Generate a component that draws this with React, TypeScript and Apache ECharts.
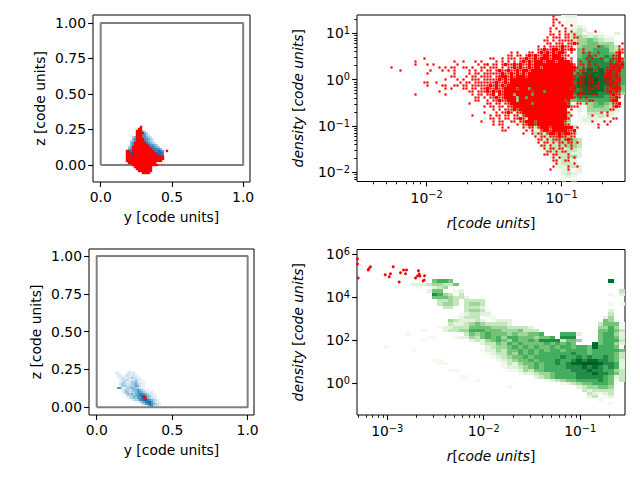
import React, { useEffect, useRef } from "react";
import * as echarts from "echarts";

const FONT = "DejaVu Sans";
const FS = 13.9;

const greens = ["", "#f2faef", "#e0f3db", "#c4e7bd", "#9fd79a", "#72c375", "#45ad5f", "#238b45", "#006d2c", "#005a24"];
const blues = ["", "#e8f1f9", "#cfe1f1", "#a9cfe5", "#7ab6da", "#4f9bcb", "#3384bf", "#1f72b2", "#1261a6", "#0c5296"];

// Bin layout of the histograms (log10 units for right-hand panels)
const trHeatOrigin = { x: -2.516, y: 1.394, dx: 0.0397, dy: 0.0718 };
const brHeatOrigin = { x: -3.313, y: 6.21, dx: 0.05544, dy: 0.1536 };
const trRedOrigin = { x: -2.516, y: 1.394, dx: 0.02222, dy: 0.06466 };
const tlOrigin = { x: 0.1775, y: 0.2746, dx: 0.01404, dy: 0.01408 };
const blOrigin = { x: 0.1212, y: 0.2404, dx: 0.01325, dy: 0.01325 };

// [row, first column, levels] : histogram levels
const trHeat: [number, number, string][] = [
  [0, 38, "122"], [1, 39, "11"], [2, 39, "11"], [3, 40, "121"], [4, 39, "1232"],
  [5, 39, "2331211"], [5, 48, "2"], [6, 39, "234323211"], [7, 40, "34454322"], [8, 41, "4455444"],
  [9, 41, "45556543"], [10, 41, "55566643"], [11, 41, "56666654"], [12, 41, "56766765"], [13, 41, "667776765"],
  [14, 41, "667777766"], [15, 41, "667777776"], [16, 40, "6678787776"], [17, 40, "6788887766"], [18, 40, "7789888776"],
  [19, 40, "7899988776"], [20, 40, "7899988876"], [21, 40, "7889887765"], [22, 40, "7788887655"], [23, 40, "7888877654"],
  [24, 40, "677777654"], [25, 40, "56666665"], [26, 41, "23456543"], [27, 41, "21455432"], [28, 41, "21444432"],
  [29, 41, "1.333221"], [30, 41, "1122321"], [31, 41, "12221"], [32, 41, "111"],
  [18, 30, "4455666666"], [19, 29, "34556666666"], [20, 28, "334556666666"], [21, 27, "3345566666666"], [22, 27, "3345566666666"],
  [23, 27, "4456666666666"], [24, 27, "3445666666665"], [25, 27, "3445566666665"], [26, 28, "344566666665"], [27, 28, "34456666665"],
  [28, 29, "3445566665"], [29, 29, "23445666654"], [30, 30, "2445555554"], [31, 30, "2344555544"], [32, 30, "2345544443"],
  [33, 31, "3334454443"], [34, 32, "22334443"], [35, 33, "32334443"], [36, 33, "1233344"], [37, 33, "123344443"],
  [38, 34, "12334443"], [39, 34, "22333443"], [40, 34, "12332332"], [41, 35, "2233322"], [42, 36, "223342"],
  [43, 36, "12322"], [44, 37, "23321"], [45, 37, "22232"], [46, 37, "12212"], [47, 38, "2321"], [48, 38, "121"], [49, 38, "1.1"],
];

const brHeat: [number, number, string][] = [
  [9, 14, "5665"], [9, 47, "8"],
  [10, 10, "2223"], [10, 14, "44335"], [10, 47, "1"],
  [11, 11, "1..2"], [11, 15, "34"], [12, 13, "255"], [12, 18, "1"], [12, 19, "2"],
  [12, 49, "3"], [13, 14, "7643"], [13, 19, "3"], [13, 49, "2"], [13, 47, "1"],
  [14, 14, "55543"], [14, 19, "32"], [15, 15, "3343"], [15, 20, "3333"], [16, 15, "3443"], [16, 20, "3443"],
  [16, 47, "1"], [16, 49, "1"], [17, 16, "33"], [17, 20, "3332"], [18, 20, "3443"], [18, 24, "1"], [18, 47, "2"],
  [19, 19, "12332"], [19, 24, "2"], [19, 47, "3"], [20, 18, ".2333"], [20, 24, "11"], [20, 46, "24"],
  [21, 17, "43"], [21, 19, "22232"], [21, 25, "1222"], [21, 46, "54"], [21, 48, "1"],
  [22, 17, "322"], [22, 20, "34543"], [22, 25, "3332"], [22, 45, "3555"], [22, 49, "1"],
  [23, 15, "12233"], [23, 20, "355554443"], [23, 29, "3332"], [23, 45, "44643"], [23, 49, "1"],
  [24, 16, "2334"], [24, 20, "466655544453"], [24, 32, "33"], [24, 45, "55653"],
  [25, 20, "3545655545445"], [25, 33, "56"], [25, 38, "6662"], [25, 45, "56642"],
  [26, 18, "12243565646655"], [26, 32, "54556"], [26, 38, "777"], [26, 45, "56652"],
  [27, 21, "2324565465565"], [27, 34, "77773554"], [27, 45, "56663"],
  [28, 23, "233546565555656565"], [28, 44, "856642"],
  [29, 24, "2344565656556566566"], [29, 43, "586665"],
  [30, 23, "122435565656566566665"], [30, 44, "666665"],
  [31, 24, "1233546565666666766566"], [31, 46, "6653"],
  [32, 25, "123455656666676676766"], [32, 46, "7653"],
  [33, 26, "12345565666766787887"], [33, 46, "7652"],
  [34, 27, "1324556566767889998"], [34, 45, "87762"],
  [35, 27, "1223456566667778787"], [35, 46, "6762"],
  [36, 28, "112435566666777877"], [36, 46, "6643"],
  [37, 30, "1223445666677787"], [37, 46, "7653"],
  [38, 33, "2345666677777"], [38, 46, "6523"],
  [39, 35, "12345566667"], [39, 46, "6513"],
  [40, 38, "12345566"], [40, 46, "651"],
  [41, 41, "23445"], [41, 46, "54"], [42, 42, "3233"], [42, 46, "33"], [43, 43, "32"], [43, 45, "123"], [44, 43, "23"], [44, 46, "12"],
  [45, 45, "1"], [46, 47, "1"],
  [25, 9, "1"], [27, 12, "1"], [30, 10, "1"], [33, 14, "11"], [34, 15, "11"], [36, 17, "11"], [38, 19, "11"],
  [39, 22, "1"], [41, 28, "1"], [29, 5, "1"], [24, 12, "1"], [26, 13, "11"],
];

// Red cloud of the top right panel: [row, first column, marks] ('#' heavy, 'o' single point)
const trRed: [number, number, string][] = [
  [0, 65, "o"], [1, 65, "oo"], [2, 65, "o.o"], [3, 65, "o..o..o"], [4, 64, "o.o..o"], [5, 64, "o..o.o.o"], [5, 79, "o"],
  [6, 64, "oo.o.oo.o"], [7, 63, "o.ooo.oo.oo"], [8, 62, "oo.o.ooooo"], [9, 63, "oo.ooo.oo#o"], [9, 88, "o"],
  [10, 60, "o.o.oooo#ooo"], [10, 80, "o"], [10, 87, "o.o"], [11, 60, "oo#oo##o#oo#o"], [11, 75, "o"], [11, 87, "oo"],
  [12, 51, "o.o"], [12, 57, "oo.o#o#o#o##o.o"], [12, 75, "o.o..o"], [12, 86, "o#o"],
  [13, 50, "oo.oo"], [13, 56, "o#o#oo##o###ooo"], [13, 77, "o.o"], [13, 85, "oo#.o"],
  [14, 22, "o"], [14, 44, "oo"], [14, 48, "o.ooo"], [14, 54, "oo#oo#o###o####o.o"], [14, 76, "o.o..o"], [14, 85, "oo#o"],
  [15, 19, "o"], [15, 32, "o..o"], [15, 39, "o.o"], [15, 46, "o.o.o.o"], [15, 54, "o#o#o###o###o####o"], [15, 74, "o..o"], [15, 84, "o.o#o"],
  [16, 19, "o"], [16, 23, "o.o"], [16, 33, "o"], [16, 40, "o.oo"], [16, 43, "o.oo.o#oo#o#oo"], [16, 57, "#o#############o"], [16, 74, "oo.o.o"], [16, 84, "oo#o#"],
  [17, 11, "o"], [17, 27, "o.o.oo"], [17, 35, "oo.o..o"], [17, 42, "o.ooo.o.oo#o#oo#o"], [17, 59, "##o###########o"], [17, 75, "o.o..o"], [17, 83, "oo#o#o"],
  [18, 14, "o"], [18, 24, "o...o"], [18, 30, "o.o"], [18, 37, "o.o.o.oo"], [18, 46, "o#oo#oo#o#"], [18, 56, "#o##############o."], [18, 74, "oo...o"], [18, 83, "o#oo#"],
  [19, 23, "o"], [19, 32, "o"], [19, 37, "o.oo.ooooo"], [19, 47, "o#oo#o#o"], [19, 55, "#o###############.o"], [19, 75, "o.o"], [19, 82, "o##o#o"],
  [20, 31, "oo"], [20, 36, "o.oo.oooo.oo"], [20, 47, "o##o#o"], [20, 53, "###o###############o."], [20, 74, "#o.o..o"], [20, 82, "o##o#o"],
  [21, 29, "o"], [21, 33, "o.o..ooo.oooo"], [21, 46, "o#o#o#"], [21, 52, "####################o."], [21, 74, "oo.oo"], [21, 82, "oo#oo#"],
  [22, 22, "oo"], [22, 26, "o"], [22, 34, "o.oo.oooooooo"], [22, 46, "#oo#o"], [22, 51, "#####################.oo"], [22, 74, "oo.oo.o"], [22, 83, "oo#oo"],
  [23, 23, "o"], [23, 28, "oo"], [23, 32, "oo.oo.oooooo#"], [23, 45, "o#o#o"], [23, 50, "######################o."], [23, 74, "oo.o.oo"], [23, 83, "o#o#o"],
  [24, 29, "o"], [24, 31, "o"], [24, 35, "oo.oo.oo#o"], [24, 45, "o#oo#"], [24, 50, "###o###.#############o#."], [24, 74, "o"], [24, 77, "oo.o"], [24, 83, "oo###"],
  [25, 27, "o"], [25, 37, "oo.ooo#o"], [25, 45, "#o#o"], [25, 49, "#########o###.#########o."], [25, 74, "oo.o"], [25, 83, "o#o#o"],
  [26, 19, "o"], [26, 29, "o"], [26, 38, "o.oo.o"], [26, 44, "o#.#o"], [26, 49, "###.#####.#############.o"], [26, 74, "oo..oo"], [26, 84, "o#oo"],
  [27, 39, "oo.o"], [27, 44, "oo#oo"], [27, 49, "####.##.###############o."], [27, 74, "o.o"], [27, 84, "oo#o"],
  [28, 39, "oo"], [28, 43, "o"], [28, 45, "oo#o"], [28, 49, "o###.###############o#."], [28, 77, "oo"], [28, 84, "o##"],
  [29, 37, "o"], [29, 43, "oo.oo"], [29, 49, "oo#######.###########o"], [29, 73, "oo.o"], [29, 85, "oo#"],
  [30, 42, "o.oo.oo"], [30, 50, "oo###################o"], [30, 72, "oo"], [30, 85, "o#o"],
  [31, 45, "o.o"], [31, 49, "ooo#o"], [31, 54, "################.o"], [31, 84, "oo"],
  [32, 42, "o"], [32, 46, "o.oo#o.o"], [32, 54, "o###############o"], [32, 81, "o.o"],
  [33, 38, "o"], [33, 44, "o.oo.oo"], [33, 52, "oo.o##############.o"], [33, 78, "o"], [33, 83, "o"],
  [34, 44, "oo.o.oo"], [34, 52, "oo#o.#############o"], [34, 85, "oo"],
  [35, 41, "o"], [35, 45, "o.oo"], [35, 51, "oo.oo###o#########o"], [35, 78, "o"], [35, 82, "o"], [35, 84, "o"],
  [36, 45, "o.oo"], [36, 53, "o.oo##o#########oo"], [36, 80, "o"], [36, 83, "o"],
  [37, 48, "o.o"], [37, 55, "o.oo.o###o#######.o"], [37, 80, "o"],
  [38, 48, "oo"], [38, 56, "o.o"], [38, 61, "o##o#####oo#"],
  [39, 55, "o"], [39, 58, "o.oo.o##o#o##oo"], [40, 59, "o.oo.ooo#oo.oo"], [41, 60, "oo.o.ooo.o#o"],
  [42, 60, "o.oo.o.oo.oo.o"], [43, 61, "oo.o..o.o.o"], [44, 62, "o.oo.oo..o"], [45, 63, "oo.o.oo"],
  [46, 62, "oo.oo...o"], [47, 65, "o.o..o.o"], [48, 65, "oo..o"], [48, 70, "o"], [49, 66, "o"], [49, 72, "o"],
  [50, 65, "o"], [50, 70, "o"], [50, 73, "o"], [51, 64, "o"], [51, 70, "o"],
];

const tlBlue: [number, number, string][] = [
  [2, 8, "32"], [3, 9, "43"], [4, 8, "5532"], [5, 3, "34"], [5, 8, "55432"], [6, 3, "45"], [6, 9, "55432"],
  [7, 2, "345"], [7, 9, "65432"], [8, 2, "456"], [8, 10, "65432"], [9, 2, "45"], [9, 11, "65543"],
  [10, 1, "345"], [10, 12, "66543"], [11, 1, "45"], [11, 13, "66654"], [12, 2, "6"], [12, 14, "66765"],
  [13, 2, "89"], [13, 15, "7776"], [14, 3, "9"], [14, 16, "776"],
];
const tlRed: [number, number, string][] = [
  [0, 7, "#"], [1, 6, "##"], [2, 5, "###"], [3, 5, "####"], [4, 5, "###"], [5, 5, "###"], [6, 5, "####"], [7, 5, "####"],
  [8, 4, "######"], [9, 4, "#######"], [10, 3, "#########"], [11, 3, "##########"],
  [12, 0, "##"], [12, 3, "###########"], [12, 20, "#"], [13, 0, "##"], [13, 4, "###########"],
  [14, 0, "###"], [14, 4, "############"], [15, 0, "###################"], [16, 0, "###################"],
  [17, 0, "##################"], [18, 1, "##############"], [19, 3, "#############"], [20, 4, "#########"],
  [21, 5, "########"], [22, 6, "#######"], [23, 8, "####"],
];

const blBlue: [number, number, string][] = [
  [0, 0, "11"], [0, 6, "1211"], [1, 0, "121"], [1, 5, "122121"], [2, 1, "121"], [2, 4, "12212211"],
  [3, 1, "112212232211"], [4, 2, "122321223211"], [5, 2, "1232123342111"], [6, 2, "2332223443211"],
  [7, 2, "1333233354211"], [8, 1, "55212334433211"], [9, 3, "12332344543211"], [10, 3, "1243233455432112"],
  [11, 4, "12434345665432111"], [12, 5, "1233445677543211"], [13, 6, "123435577643221"],
  [14, 8, "12336678654321"], [15, 10, "1124567753211"], [16, 13, "2356754321"], [17, 16, "3562211"],
];
const blRed: number[][] = [[0.3166, 0.065]];

// log10(r), log10(density) of the red points in the lower right panel
const brRedLog: number[][] = [
  [-3.308, 5.768], [-3.308, 5.536], [-3.301, 4.886], [-3.197, 5.258], [-3.173, 5.411], [-3.189, 5.327],
  [-3.021, 5.039], [-2.966, 5.086], [-2.979, 4.947], [-2.938, 5.411], [-2.862, 5.132], [-2.831, 5.258],
  [-2.8, 5.258], [-2.81, 5.086], [-2.876, 4.701], [-2.676, 5.225], [-2.668, 5.072], [-2.686, 4.979],
  [-2.662, 4.979], [-2.707, 4.886], [-2.613, 4.993], [-2.617, 4.793], [-2.627, 4.747],
];

const boxPoints: number[][] = [[0, 0], [1, 0], [1, 1], [0, 1], [0, 0]];
const tlYTicks = [0, 0.25, 0.5, 0.75, 1];
const xTicks = [0, 0.5, 1];
const trXMajor = [0.01, 0.1];
const trYMajor = [0.01, 0.1, 1, 10];
const brXMajor = [0.001, 0.01, 0.1];
const brYMajor = [1, 100, 10000, 1000000];

const subs = (decades: number[]) => decades.flatMap((d) => [2, 3, 4, 5, 6, 7, 8, 9].map((m) => m * d));
const trXMinor = subs([0.001, 0.01, 0.1]);
const trYMinor = subs([0.001, 0.01, 0.1, 1, 10]);
const brXMinor = subs([0.0001, 0.001, 0.01, 0.1]);

type Cell = number[];
const heatCells = (rows: [number, number, string][], o: any, log: boolean): Cell[] => {
  const out: Cell[] = [];
  const tx = (v: number) => (log ? Math.pow(10, v) : v);
  for (const [r, c0, s] of rows) {
    for (let i = 0; i < s.length; i++) {
      const lv = Number(s[i]);
      if (!lv) continue;
      const c = c0 + i;
      out.push([tx(o.x + c * o.dx), tx(o.x + (c + 1) * o.dx), tx(o.y - r * o.dy), tx(o.y - (r + 1) * o.dy), lv]);
    }
  }
  return out;
};
const markPoints = (rows: [number, number, string][], o: any, log: boolean, ch: string): number[][] => {
  const out: number[][] = [];
  const tx = (v: number) => (log ? Math.pow(10, v) : v);
  for (const [r, c0, s] of rows) {
    for (let i = 0; i < s.length; i++) {
      if (s[i] !== ch) continue;
      out.push([tx(o.x + (c0 + i + 0.5) * o.dx), tx(o.y - (r + 0.5) * o.dy)]);
    }
  }
  return out;
};

const heatSeries = (data: Cell[], palette: string[], axis: number) => ({
  type: "custom",
  xAxisIndex: axis,
  yAxisIndex: axis,
  clip: true,
  silent: true,
  z: 2,
  encode: { x: [0, 1], y: [2, 3] },
  data,
  renderItem: (_p: any, api: any) => {
    const a = api.coord([api.value(0), api.value(2)]);
    const b = api.coord([api.value(1), api.value(3)]);
    const x0 = Math.round(a[0]);
    const x1 = Math.round(b[0]);
    const y0 = Math.round(a[1]);
    const y1 = Math.round(b[1]);
    return {
      type: "rect",
      shape: { x: x0, y: y0, width: Math.max(x1 - x0, 1), height: Math.max(y1 - y0, 1) },
      style: { fill: palette[api.value(4)] },
    };
  },
});

const dots = (data: number[][], axisX: number, axisY: number, symbol: string, size: number) => ({
  type: "scatter",
  xAxisIndex: axisX,
  yAxisIndex: axisY,
  symbol,
  symbolSize: size,
  itemStyle: { color: "#ff0000", opacity: 1 },
  silent: true,
  clip: true,
  z: 4,
  data,
});

const box = (axis: number) => ({
  type: "line",
  xAxisIndex: axis,
  yAxisIndex: axis,
  data: boxPoints,
  symbol: "none",
  silent: true,
  z: 3,
  lineStyle: { color: "#808080", width: 2 },
});

const richBase = {
  i: { fontFamily: FONT, fontSize: FS, fontStyle: "italic", color: "#000" },
  n: { fontFamily: FONT, fontSize: FS, color: "#000" },
};

const axis = (opts: any) => {
  const { grid, dim, min, max, log, ticks, fmt, name, nameGap, minor } = opts;
  const base: any = {
    gridIndex: grid,
    type: log ? "log" : "value",
    logBase: 10,
    min,
    max,
    position: dim === "x" ? "bottom" : "left",
    scale: true,
    splitLine: { show: false },
    minorTick: { show: false },
    minorSplitLine: { show: false },
    axisLine: { show: false, onZero: false },
    axisPointer: { show: false },
  };
  if (minor) {
    return {
      ...base,
      axisTick: { show: true, customValues: ticks, length: 2.8, lineStyle: { color: "#000", width: 0.9 } },
      axisLabel: { show: false },
    };
  }
  return {
    ...base,
    name,
    nameLocation: "middle",
    nameGap,
    nameTextStyle: { fontFamily: FONT, fontSize: FS, color: "#000", rich: richBase },
    axisTick: { show: true, customValues: ticks, length: 4.9, lineStyle: { color: "#000", width: 1.1 } },
    axisLabel: {
      show: true,
      customValues: ticks,
      margin: dim === "x" ? 8 : 7,
      color: "#000",
      fontFamily: FONT,
      fontSize: FS,
      formatter: fmt,
      rich: {
        b: { fontFamily: FONT, fontSize: FS, color: "#000" },
        s: { fontFamily: FONT, fontSize: 9.8, color: "#000", padding: [0, 0, 6, 0] },
      },
    },
  };
};

const fmtLog = (v: number) => {
  const e = Math.round(Math.log10(v));
  return "{b|10}{s|" + (e < 0 ? "\u2212" + -e : e) + "}";
};
const fmt2 = (v: number) => v.toFixed(2);
const fmt1 = (v: number) => v.toFixed(1);

const buildOption = () => {
  const P = Math.pow;
  const rName = "{i|r}{n|[}{i|code units}{n|]}";
  const dName = "{i|density }{n|[}{i|code units}{n|]}";
  return {
    animation: false,
    backgroundColor: "#fff",
    grid: [
      { left: 93, top: 15, width: 157, height: 167, show: true, borderColor: "#000", borderWidth: 1 },
      { left: 357, top: 15, width: 268, height: 166.5, show: true, borderColor: "#000", borderWidth: 1 },
      { left: 89, top: 249, width: 165, height: 166, show: true, borderColor: "#000", borderWidth: 1 },
      { left: 357, top: 249.5, width: 268, height: 165.5, show: true, borderColor: "#000", borderWidth: 1 },
    ],
    xAxis: [
      axis({ grid: 0, dim: "x", min: -0.054, max: 1.048, ticks: xTicks, fmt: fmt1, name: "y [code units]", nameGap: 28 }),
      axis({ grid: 1, dim: "x", log: true, min: P(10, -2.516), max: P(10, -0.531), ticks: trXMajor, fmt: fmtLog, name: rName, nameGap: 34 }),
      axis({ grid: 2, dim: "x", min: -0.051, max: 1.042, ticks: xTicks, fmt: fmt1, name: "y [code units]", nameGap: 28 }),
      axis({ grid: 3, dim: "x", log: true, min: P(10, -3.313), max: P(10, -0.536), ticks: brXMajor, fmt: fmtLog, name: rName, nameGap: 34 }),
      axis({ grid: 1, dim: "x", log: true, min: P(10, -2.516), max: P(10, -0.531), ticks: trXMinor, minor: true }),
      axis({ grid: 3, dim: "x", log: true, min: P(10, -3.313), max: P(10, -0.536), ticks: brXMinor, minor: true }),
    ],
    yAxis: [
      axis({ grid: 0, dim: "y", min: -0.12, max: 1.056, ticks: tlYTicks, fmt: fmt2, name: "z [code units]", nameGap: 46 }),
      axis({ grid: 1, dim: "y", log: true, min: P(10, -2.194), max: P(10, 1.394), ticks: trYMajor, fmt: fmtLog, name: dName, nameGap: 52 }),
      axis({ grid: 2, dim: "y", min: -0.051, max: 1.046, ticks: tlYTicks, fmt: fmt2, name: "z [code units]", nameGap: 46 }),
      axis({ grid: 3, dim: "y", log: true, min: P(10, -1.47), max: P(10, 6.21), ticks: brYMajor, fmt: fmtLog, name: dName, nameGap: 52 }),
      axis({ grid: 1, dim: "y", log: true, min: P(10, -2.194), max: P(10, 1.394), ticks: trYMinor, minor: true }),
    ],
    series: [
      box(0),
      box(2),
      heatSeries(heatCells(tlBlue, tlOrigin, false), blues, 0),
      heatSeries(heatCells(blBlue, blOrigin, false), blues, 2),
      heatSeries(heatCells(trHeat, trHeatOrigin, true), greens, 1),
      heatSeries(heatCells(brHeat, brHeatOrigin, true), greens, 3),
      dots(markPoints(tlRed, tlOrigin, false, "#"), 0, 0, "rect", 2.4),
      dots(blRed, 2, 2, "rect", 3.4),
      dots(markPoints(trRed, trRedOrigin, true, "#"), 1, 1, "rect", 3.2),
      dots(markPoints(trRed, trRedOrigin, true, "o"), 1, 1, "rect", 2.2),
      dots(brRedLog.map(([x, y]) => [P(10, x), P(10, y)]), 3, 3, "circle", 3),
    ],
  };
};

export default function App() {
  const ref = useRef<HTMLDivElement>(null);
  useEffect(() => {
    document.body.style.margin = "0";
    const chart = echarts.init(ref.current!, undefined, { renderer: "svg", width: 640, height: 480 });
    chart.setOption(buildOption() as any);
    return () => chart.dispose();
  }, []);
  return <div ref={ref} style={{ width: 640, height: 480 }} />;
}
